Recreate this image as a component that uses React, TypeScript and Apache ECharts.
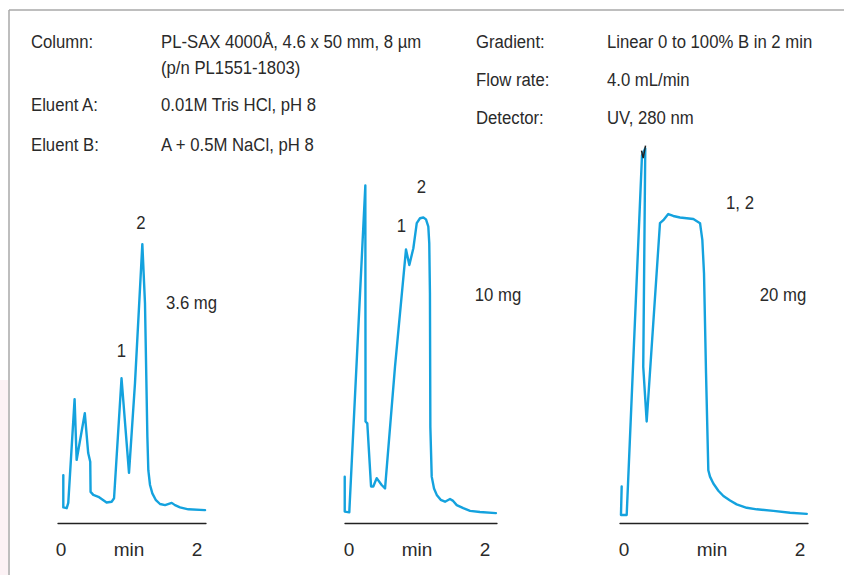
import React, { useEffect, useRef } from "react";
import * as echarts from "echarts";

// ---- Data (time in min, detector signal in relative units) ----
const trace36mg: [number, number][] = [
  [0.034, 12.6], [0.034, 4.1], [0.084, 3.9], [0.107, 5.3], [0.2, 32.6], [0.23, 16.6],
  [0.35, 28.9], [0.4, 18.4], [0.43, 16.1], [0.435, 8.2], [0.475, 7.4], [0.55, 6.9],
  [0.67, 5.4], [0.745, 5.6], [0.78, 6.5], [0.89, 38.1], [1.0, 13.2], [1.088, 36.8],
  [1.196, 73.4], [1.235, 57.8], [1.27, 22.7], [1.284, 13.9], [1.309, 10], [1.343, 7.8],
  [1.392, 6.1], [1.456, 5.0], [1.53, 4.7], [1.628, 5.3], [1.676, 4.7], [1.75, 4.1],
  [1.872, 3.6], [2.118, 3.4],
];
const trace10mg: [number, number][] = [
  [-0.063, 12.2], [-0.063, 3.0], [0.004, 2.8], [0.24, 88.8], [0.243, 26.7], [0.269, 26.2],
  [0.324, 9.6], [0.357, 9.6], [0.407, 11.8], [0.48, 10], [0.53, 9.1], [0.676, 41.1],
  [0.838, 72.0], [0.887, 67.9], [0.946, 72.3], [0.996, 78.9], [1.044, 80.2], [1.093, 80.4],
  [1.132, 79.9], [1.166, 78], [1.18, 73.6], [1.19, 60.4], [1.196, 25.3], [1.216, 12.2],
  [1.25, 9.1], [1.29, 7.4], [1.348, 6.1], [1.412, 5.6], [1.485, 6.3], [1.525, 5.9],
  [1.584, 4.7], [1.68, 3.9], [1.78, 3.2], [1.926, 2.9], [2.16, 2.6],
];
const trace20mg: [number, number][] = [
  [-0.026, 9.6], [-0.034, 2.1], [0.031, 2.1], [0.205, 96.8], [0.242, 98.6], [0.219, 41.1],
  [0.258, 26.7], [0.409, 78.9], [0.447, 79.7], [0.503, 81.3], [0.56, 80.8], [0.636, 80.4],
  [0.788, 80], [0.864, 78.9], [0.89, 74.5], [0.909, 65.7], [0.932, 39.4], [0.958, 13.9],
  [0.977, 12.2], [1.015, 10.4], [1.072, 8.5], [1.129, 7.1], [1.205, 5.9], [1.28, 4.9],
  [1.394, 4.0], [1.508, 3.6], [1.697, 3.2], [1.886, 2.7], [2.076, 2.4],
];
const offScaleMark: [number, number][] = [[0.199, 98.0], [0.218, 96.0], [0.245, 99.3]];

const tickValues = [0, 1, 2];
const tickLabels = ["0", "min", "2"];

const headerLabels = ["Column:", "Eluent A:", "Eluent B:", "Gradient:", "Flow rate:", "Detector:"];
const headerValues = [
  "PL-SAX 4000Å, 4.6 x 50 mm, 8 µm",
  "0.01M Tris HCl, pH 8",
  "A + 0.5M NaCl, pH 8",
  "Linear 0 to 100% B in 2 min",
  "4.0 mL/min",
  "UV, 280 nm",
];
const partNumber = "(p/n PL1551-1803)";
const loadLabels = ["3.6 mg", "10 mg", "20 mg"];

const FONT = "'Liberation Sans', Arial, sans-serif";
const TEXT = "#2a2a2a";
const BLUE = "#14a2de";

export default function App() {
  const ref = useRef<HTMLDivElement>(null);
  useEffect(() => {
    if (!ref.current) return;
    const chart = echarts.init(ref.current, null, { renderer: "svg" });

    const panels = [
      { left: 58, width: 148, min: -0.044, max: 2.132, data: trace36mg },
      { left: 345, width: 152, min: -0.059, max: 2.176, data: trace10mg },
      { left: 620, width: 188, min: -0.045, max: 2.09, data: trace20mg },
    ];

    const grids = panels.map((p) => ({ left: p.left, width: p.width, top: 143, bottom: 52 }));
    const xAxes = panels.map((p, i) => ({
      type: "value",
      gridIndex: i,
      min: p.min,
      max: p.max,
      axisLine: { show: true, lineStyle: { color: "#222", width: 1.3 } },
      axisTick: { show: false },
      splitLine: { show: false },
      axisLabel: {
        customValues: tickValues,
        formatter: (v: number) => tickLabels[tickValues.indexOf(Math.round(v))] ?? "",
        color: TEXT,
        fontFamily: FONT,
        fontSize: 19,
        margin: 17,
        showMinLabel: true,
        showMaxLabel: true,
      },
    }));
    const yAxes = panels.map((_, i) => ({
      type: "value",
      gridIndex: i,
      min: 0,
      max: 100,
      show: false,
    }));
    const series: any[] = panels.map((p, i) => ({
      type: "line",
      xAxisIndex: i,
      yAxisIndex: i,
      data: p.data,
      showSymbol: false,
      symbol: "none",
      lineStyle: { color: BLUE, width: 2.4, join: "round", cap: "round" },
      z: 2,
    }));
    series.push({
      type: "line",
      xAxisIndex: 2,
      yAxisIndex: 2,
      data: offScaleMark,
      symbol: "none",
      lineStyle: { color: "#222", width: 1.5 },
      z: 3,
    });

    const txt = (text: string, x: number, y: number, align = "left") => ({
      type: "text",
      x,
      y,
      scaleX: 0.88,
      style: { text, fill: TEXT, font: `19px ${FONT}`, align, verticalAlign: "middle" },
    });

    const graphic: any[] = [
      { type: "rect", shape: { x: 0, y: 380, width: 8, height: 195 }, style: { fill: "#fcf2f5" } },
      { type: "line", shape: { x1: 9, y1: 10, x2: 9, y2: 575 }, style: { stroke: "#a8a8a8", lineWidth: 1.5 } },
      { type: "line", shape: { x1: 9, y1: 10, x2: 844, y2: 10 }, style: { stroke: "#a8a8a8", lineWidth: 1.5 } },
      txt(headerLabels[0], 31, 42),
      txt(headerValues[0], 161, 42),
      txt(partNumber, 161, 68),
      txt(headerLabels[1], 31, 105),
      txt(headerValues[1], 161, 105),
      txt(headerLabels[2], 31, 145),
      txt(headerValues[2], 161, 145),
      txt(headerLabels[3], 476, 42),
      txt(headerValues[3], 607, 42),
      txt(headerLabels[4], 476, 80),
      txt(headerValues[4], 607, 80),
      txt(headerLabels[5], 476, 118),
      txt(headerValues[5], 607, 118),
      txt("2", 141, 223, "center"),
      txt("1", 121.5, 351, "center"),
      txt(loadLabels[0], 191.5, 303, "center"),
      txt("2", 421.5, 187, "center"),
      txt("1", 401.5, 226, "center"),
      txt(loadLabels[1], 498, 295, "center"),
      txt("1, 2", 740, 203, "center"),
      txt(loadLabels[2], 783, 295, "center"),
    ];

    chart.setOption({
      animation: false,
      backgroundColor: "#ffffff",
      grid: grids,
      xAxis: xAxes,
      yAxis: yAxes,
      series,
      graphic,
    });
    return () => chart.dispose();
  }, []);

  return (
    <div
      ref={ref}
      style={{ position: "fixed", left: 0, top: 0, width: 844, height: 575, background: "#fff" }}
    />
  );
}
